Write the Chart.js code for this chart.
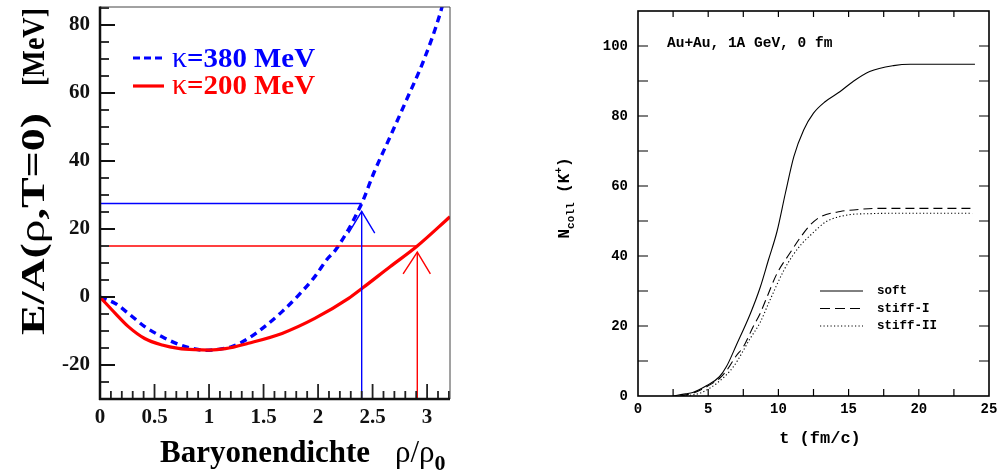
<!DOCTYPE html>
<html>
<head>
<meta charset="utf-8">
<script src="https://cdn.jsdelivr.net/npm/chart.js"></script>
<style>
  html, body { margin: 0; padding: 0; background: #fff; overflow: hidden; }
  #wrap { position: relative; width: 998px; height: 475px; }
  #eos { position: absolute; left: 0; top: 0; }
  #kaon { position: absolute; left: 536px; top: 0; }
</style>
</head>
<body>
<div id="wrap">
  <canvas id="eos" width="470" height="475"></canvas>
  <canvas id="kaon" width="462" height="475"></canvas>
</div>
<script>
// ---- left panel: E/A(rho, T=0) in MeV versus rho/rho0 ----
const rhoK200 = [0, 0.14, 0.26, 0.41, 0.57, 0.72, 0.87, 1.0, 1.15, 1.36, 1.67, 1.97, 2.28, 2.41, 2.66, 2.91, 3.21];
const eK200   = [0, -4.8, -8.7, -12.2, -14.1, -15.1, -15.5, -15.6, -15.2, -13.6, -10.7, -6.3, -0.4, 2.7, 8.9, 15.0, 23.6];
const rhoK380 = [0, 0.14, 0.26, 0.41, 0.57, 0.72, 0.87, 0.97, 1.08, 1.21, 1.36, 1.51, 1.67, 1.82, 1.97, 2.09, 2.16, 2.40, 2.51, 2.66, 2.81, 2.97, 3.12, 3.15];
const eK380   = [0, -1.9, -4.8, -8.7, -11.7, -13.9, -15.3, -15.7, -15.4, -14.6, -12.2, -8.7, -4.3, 0.5, 6.0, 11.4, 13.8, 27.5, 36.4, 47.1, 57.9, 69.7, 83.4, 87.0];

// marked energies (380 first, then 200) and the arrows pointing at them
const markRho = [2.40, 2.91];
const markE = [27.5, 15.0];
const arrowTipE = [25.2, 13.2];
const arrowBarbRho = [[2.28, 2.52], [2.78, 3.03]];
const arrowBarbE = [18.8, 6.8];

const eosTicksX = [0, 0.5, 1, 1.5, 2, 2.5, 3];
const eosTicksY = [-20, 0, 20, 40, 60, 80];
const eosRange = { xMin: 0, xMax: 3.21, yMin: -30, yMax: 85.3 };

// ---- right panel: N_coll(K+) versus t (fm/c) ----
const tSoft = [2.5, 3.4, 3.9, 4.9, 5.8, 6.3, 7.0, 8.0, 8.7, 9.3, 9.9, 10.5, 11.1, 11.8, 12.5, 13.3, 14.4, 15.3, 16.5, 18.2, 19.4, 24.0];
const nSoft = [0, 0.6, 1.0, 3.0, 5.5, 8.4, 14.5, 23.5, 31.0, 39.0, 47.0, 58.0, 68.4, 76.0, 80.8, 84.0, 87.0, 89.8, 92.7, 94.4, 94.8, 94.8];
const tStiff1 = [3.0, 4.0, 5.0, 5.8, 6.3, 7.0, 7.5, 8.2, 8.7, 9.2, 9.9, 10.8, 11.6, 12.3, 13.0, 14.4, 16.0, 17.0, 23.7];
const nStiff1 = [0, 0.9, 2.9, 5.0, 7.2, 11.5, 14.0, 19.8, 23.6, 28.4, 35.0, 40.7, 45.5, 49.0, 51.2, 52.7, 53.4, 53.6, 53.6];
const tStiff2 = [3.2, 4.4, 5.6, 6.8, 8.0, 8.7, 9.3, 10.4, 11.0, 11.6, 12.3, 13.4, 14.9, 16.5, 18.2, 23.8];
const nStiff2 = [0, 0.8, 3.6, 8.4, 16.5, 21.0, 26.5, 36.0, 40.0, 43.2, 46.0, 49.8, 51.7, 52.1, 52.2, 52.2];

const kaonLabels = ['soft', 'stiff-I', 'stiff-II'];
const kaonTicksX = [0, 5, 10, 15, 20, 25];
const kaonTicksY = [0, 20, 40, 60, 80, 100];
const kaonRange = { xMin: 0, xMax: 25, yMin: 0, yMax: 110 };

const SERIF = '"Liberation Serif", "Times New Roman", serif';
const MONO = '"Liberation Mono", "Courier New", monospace';

function pts(xs, ys) {
  return xs.map((x, i) => ({ x: x, y: ys[i] }));
}

function tickMarks(ctx, scale, area, values, side, len, width, color) {
  ctx.save();
  ctx.strokeStyle = color;
  ctx.lineWidth = width;
  ctx.beginPath();
  values.forEach(v => {
    const p = scale.getPixelForValue(v);
    if (side === 'bottom') { ctx.moveTo(p, area.bottom); ctx.lineTo(p, area.bottom - len); }
    if (side === 'top') { ctx.moveTo(p, area.top); ctx.lineTo(p, area.top + len); }
    if (side === 'left') { ctx.moveTo(area.left, p); ctx.lineTo(area.left + len, p); }
    if (side === 'right') { ctx.moveTo(area.right, p); ctx.lineTo(area.right - len, p); }
  });
  ctx.stroke();
  ctx.restore();
}

function edge(ctx, x1, y1, x2, y2, width, color) {
  ctx.save();
  ctx.strokeStyle = color;
  ctx.lineWidth = width;
  ctx.beginPath();
  ctx.moveTo(x1, y1);
  ctx.lineTo(x2, y2);
  ctx.stroke();
  ctx.restore();
}

// text made of runs with their own font and baseline shift;
// fitWidth stretches the whole string along its direction
function drawRuns(ctx, runs, x, y, angle, align, color, fitWidth) {
  ctx.save();
  ctx.translate(x, y);
  ctx.rotate(angle);
  ctx.textBaseline = 'alphabetic';
  ctx.textAlign = 'left';
  let total = 0;
  runs.forEach(r => { ctx.font = r.font; r.w = ctx.measureText(r.text).width; total += r.w; });
  if (fitWidth) {
    ctx.scale(fitWidth / total, 1);
  }
  let cx = align === 'center' ? -total / 2 : 0;
  runs.forEach(r => {
    ctx.font = r.font;
    ctx.fillStyle = color || '#000';
    ctx.fillText(r.text, cx, r.dy || 0);
    cx += r.w;
  });
  ctx.restore();
}

function fixedScale(size, horizontal, ticks) {
  return {
    afterBuildTicks: s => { s.ticks = ticks.map(v => ({ value: v })); },
    afterFit: s => {
      if (horizontal) s.height = size; else s.width = size;
      s.paddingLeft = 0; s.paddingRight = 0; s.paddingTop = 0; s.paddingBottom = 0;
    }
  };
}

// frame, inner ticks, legend and axis titles of the EOS panel
const eosDecor = {
  id: 'eosDecor',
  afterDatasetsDraw(chart) {
    const { ctx, chartArea: a, scales: { x, y } } = chart;
    const minorX = [];
    for (let i = 1; i <= 32; i++) if (i % 5) minorX.push(i / 10);
    const minorY = [];
    for (let v = -25; v <= 85; v += 5) if (v % 20) minorY.push(v);
    tickMarks(ctx, x, a, minorX, 'bottom', 8, 1.8, '#222');
    tickMarks(ctx, x, a, eosTicksX.slice(1), 'bottom', 15, 1.8, '#222');
    tickMarks(ctx, y, a, minorY, 'left', 9, 1.8, '#333');
    tickMarks(ctx, y, a, eosTicksY, 'left', 15, 1.8, '#111');
    edge(ctx, a.left, a.top, a.right, a.top, 1, '#444');
    edge(ctx, a.right, a.top, a.right, a.bottom, 1, '#444');
    edge(ctx, a.left, a.top - 0.5, a.left, a.bottom + 1, 2.5, '#111');
    edge(ctx, a.left - 1, a.bottom, a.right, a.bottom, 2.5, '#111');
  },
  afterDraw(chart) {
    const ctx = chart.ctx;
    // legend
    ctx.save();
    ctx.lineWidth = 3.2;
    ctx.strokeStyle = '#0000ff';
    ctx.setLineDash([7, 4]);
    ctx.beginPath(); ctx.moveTo(133, 58); ctx.lineTo(164, 58); ctx.stroke();
    ctx.setLineDash([]);
    ctx.strokeStyle = '#ff0000';
    ctx.beginPath(); ctx.moveTo(133, 86); ctx.lineTo(164, 86); ctx.stroke();
    ctx.restore();
    drawRuns(ctx, [
      { text: '\u03ba', font: '29px ' + SERIF },
      { text: '=380 MeV', font: 'bold 28px ' + SERIF }
    ], 172, 67, 0, 'left', '#0000ff', 143);
    drawRuns(ctx, [
      { text: '\u03ba', font: '29px ' + SERIF },
      { text: '=200 MeV', font: 'bold 28px ' + SERIF }
    ], 172, 94, 0, 'left', '#ff0000', 143);
    // axis titles
    drawRuns(ctx, [
      { text: 'E/A(', font: 'bold 34px ' + SERIF },
      { text: '\u03c1', font: '35px ' + SERIF },
      { text: ',T=0)', font: 'bold 34px ' + SERIF }
    ], 44, 335, -Math.PI / 2, 'left', '#000', 222);
    drawRuns(ctx, [
      { text: '[MeV]', font: 'bold 32px ' + SERIF }
    ], 44, 86, -Math.PI / 2, 'left', '#000', 78);
    drawRuns(ctx, [
      { text: 'Baryonendichte', font: 'bold 31px ' + SERIF }
    ], 160, 462, 0, 'left');
    drawRuns(ctx, [
      { text: '\u03c1/\u03c1', font: '31px ' + SERIF },
      { text: '0', font: 'bold 22px ' + SERIF, dy: 8 }
    ], 395, 462, 0, 'left');
  }
};

// frame, inner ticks, legend, note and axis titles of the kaon panel
const kaonDecor = {
  id: 'kaonDecor',
  afterDatasetsDraw(chart) {
    const { ctx, chartArea: a, scales: { x, y } } = chart;
    const stepX = [];
    for (let v = 2.5; v < 25; v += 2.5) stepX.push(v);
    const stepY = [];
    for (let v = 10; v < 110; v += 10) stepY.push(v);
    tickMarks(ctx, x, a, stepX, 'bottom', 7, 1.2, '#000');
    tickMarks(ctx, x, a, stepX, 'top', 6, 1.2, '#000');
    tickMarks(ctx, y, a, stepY, 'left', 10, 1.2, '#000');
    tickMarks(ctx, y, a, stepY, 'right', 10, 1.2, '#000');
    ctx.save();
    ctx.strokeStyle = '#000';
    ctx.lineWidth = 1.6;
    ctx.strokeRect(a.left, a.top, a.right - a.left, a.bottom - a.top);
    ctx.restore();
  },
  afterDraw(chart) {
    const ctx = chart.ctx;
    const dashes = [[], [10, 5], [1.2, 2.3]];
    const rows = [291, 308.5, 326];
    ctx.save();
    ctx.strokeStyle = '#000';
    ctx.lineWidth = 1;
    rows.forEach((ry, i) => {
      ctx.setLineDash(dashes[i]);
      ctx.beginPath(); ctx.moveTo(284, ry); ctx.lineTo(327, ry); ctx.stroke();
    });
    ctx.setLineDash([]);
    ctx.fillStyle = '#000';
    ctx.font = 'bold 12.5px ' + MONO;
    ctx.textBaseline = 'middle';
    kaonLabels.forEach((lab, i) => ctx.fillText(lab, 341, rows[i]));
    ctx.font = 'bold 14.5px ' + MONO;
    ctx.textBaseline = 'alphabetic';
    ctx.fillText('Au+Au, 1A GeV, 0 fm', 131, 47);
    ctx.restore();
    drawRuns(ctx, [{ text: 't (fm/c)', font: 'bold 17px ' + MONO }], 284, 443, 0, 'center');
    drawRuns(ctx, [
      { text: 'N', font: 'bold 16px ' + MONO },
      { text: 'coll', font: 'bold 11px ' + MONO, dy: 5 },
      { text: ' (K', font: 'bold 16px ' + MONO },
      { text: '+', font: 'bold 11px ' + MONO, dy: -7 },
      { text: ')', font: 'bold 16px ' + MONO }
    ], 33, 198, -Math.PI / 2, 'center');
  }
};

const noChrome = {
  legend: { display: false },
  tooltip: { enabled: false },
  title: { display: false }
};

new Chart(document.getElementById('eos'), {
  type: 'line',
  data: {
    datasets: [
      { data: [{ x: 0, y: markE[0] }, { x: markRho[0], y: markE[0] }], borderColor: '#0000ff', borderWidth: 1.4 },
      { data: [{ x: markRho[0], y: eosRange.yMin }, { x: markRho[0], y: arrowTipE[0] }], borderColor: '#0000ff', borderWidth: 1.4 },
      { data: [{ x: arrowBarbRho[0][0], y: arrowBarbE[0] }, { x: markRho[0], y: arrowTipE[0] }, { x: arrowBarbRho[0][1], y: arrowBarbE[0] }], borderColor: '#0000ff', borderWidth: 1.4 },
      { data: [{ x: 0, y: markE[1] }, { x: markRho[1], y: markE[1] }], borderColor: '#ff0000', borderWidth: 1.4 },
      { data: [{ x: markRho[1], y: eosRange.yMin }, { x: markRho[1], y: arrowTipE[1] }], borderColor: '#ff0000', borderWidth: 1.4 },
      { data: [{ x: arrowBarbRho[1][0], y: arrowBarbE[1] }, { x: markRho[1], y: arrowTipE[1] }, { x: arrowBarbRho[1][1], y: arrowBarbE[1] }], borderColor: '#ff0000', borderWidth: 1.4 },
      { label: '\u03ba=200 MeV', data: pts(rhoK200, eK200), borderColor: '#ff0000', borderWidth: 3.2, cubicInterpolationMode: 'monotone' },
      { label: '\u03ba=380 MeV', data: pts(rhoK380, eK380), borderColor: '#0000ff', borderWidth: 3.4, borderDash: [7, 5], cubicInterpolationMode: 'monotone' }
    ]
  },
  options: {
    responsive: false,
    animation: false,
    events: [],
    layout: { padding: { top: 7, right: 20, left: 0, bottom: 0 } },
    elements: { point: { radius: 0 }, line: { tension: 0, fill: false } },
    plugins: noChrome,
    scales: {
      x: Object.assign({
        type: 'linear', min: eosRange.xMin, max: eosRange.xMax,
        grid: { display: false, drawTicks: false }, border: { display: false },
        ticks: { autoSkip: false, maxRotation: 0, padding: 6, color: '#111',
          font: { family: SERIF, size: 21, weight: 'bold' },
          callback: v => String(v) }
      }, fixedScale(76, true, eosTicksX)),
      y: Object.assign({
        type: 'linear', min: eosRange.yMin, max: eosRange.yMax,
        grid: { display: false, drawTicks: false }, border: { display: false },
        ticks: { autoSkip: false, padding: 10, color: '#111',
          font: { family: SERIF, size: 21, weight: 'bold' },
          callback: v => String(v) }
      }, fixedScale(100, false, eosTicksY))
    }
  },
  plugins: [eosDecor]
});

new Chart(document.getElementById('kaon'), {
  type: 'line',
  data: {
    datasets: [
      { label: kaonLabels[0], data: pts(tSoft, nSoft), borderColor: '#000', borderWidth: 1.1, cubicInterpolationMode: 'monotone' },
      { label: kaonLabels[1], data: pts(tStiff1, nStiff1), borderColor: '#000', borderWidth: 1.1, borderDash: [9, 5], cubicInterpolationMode: 'monotone' },
      { label: kaonLabels[2], data: pts(tStiff2, nStiff2), borderColor: '#000', borderWidth: 1.1, borderDash: [1.2, 2.3], cubicInterpolationMode: 'monotone' }
    ]
  },
  options: {
    responsive: false,
    animation: false,
    events: [],
    layout: { padding: { top: 11, right: 9, left: 0, bottom: 0 } },
    elements: { point: { radius: 0 }, line: { tension: 0, fill: false } },
    plugins: noChrome,
    scales: {
      x: Object.assign({
        type: 'linear', min: kaonRange.xMin, max: kaonRange.xMax,
        grid: { display: false, drawTicks: false }, border: { display: false },
        ticks: { autoSkip: false, maxRotation: 0, padding: 5, color: '#000',
          font: { family: MONO, size: 14, weight: 'bold' } }
      }, fixedScale(79, true, kaonTicksX)),
      y: Object.assign({
        type: 'linear', min: kaonRange.yMin, max: kaonRange.yMax,
        grid: { display: false, drawTicks: false }, border: { display: false },
        ticks: { autoSkip: false, padding: 10, color: '#000',
          font: { family: MONO, size: 14, weight: 'bold' } }
      }, fixedScale(102, false, kaonTicksY))
    }
  },
  plugins: [kaonDecor]
});
</script>
</body>
</html>
